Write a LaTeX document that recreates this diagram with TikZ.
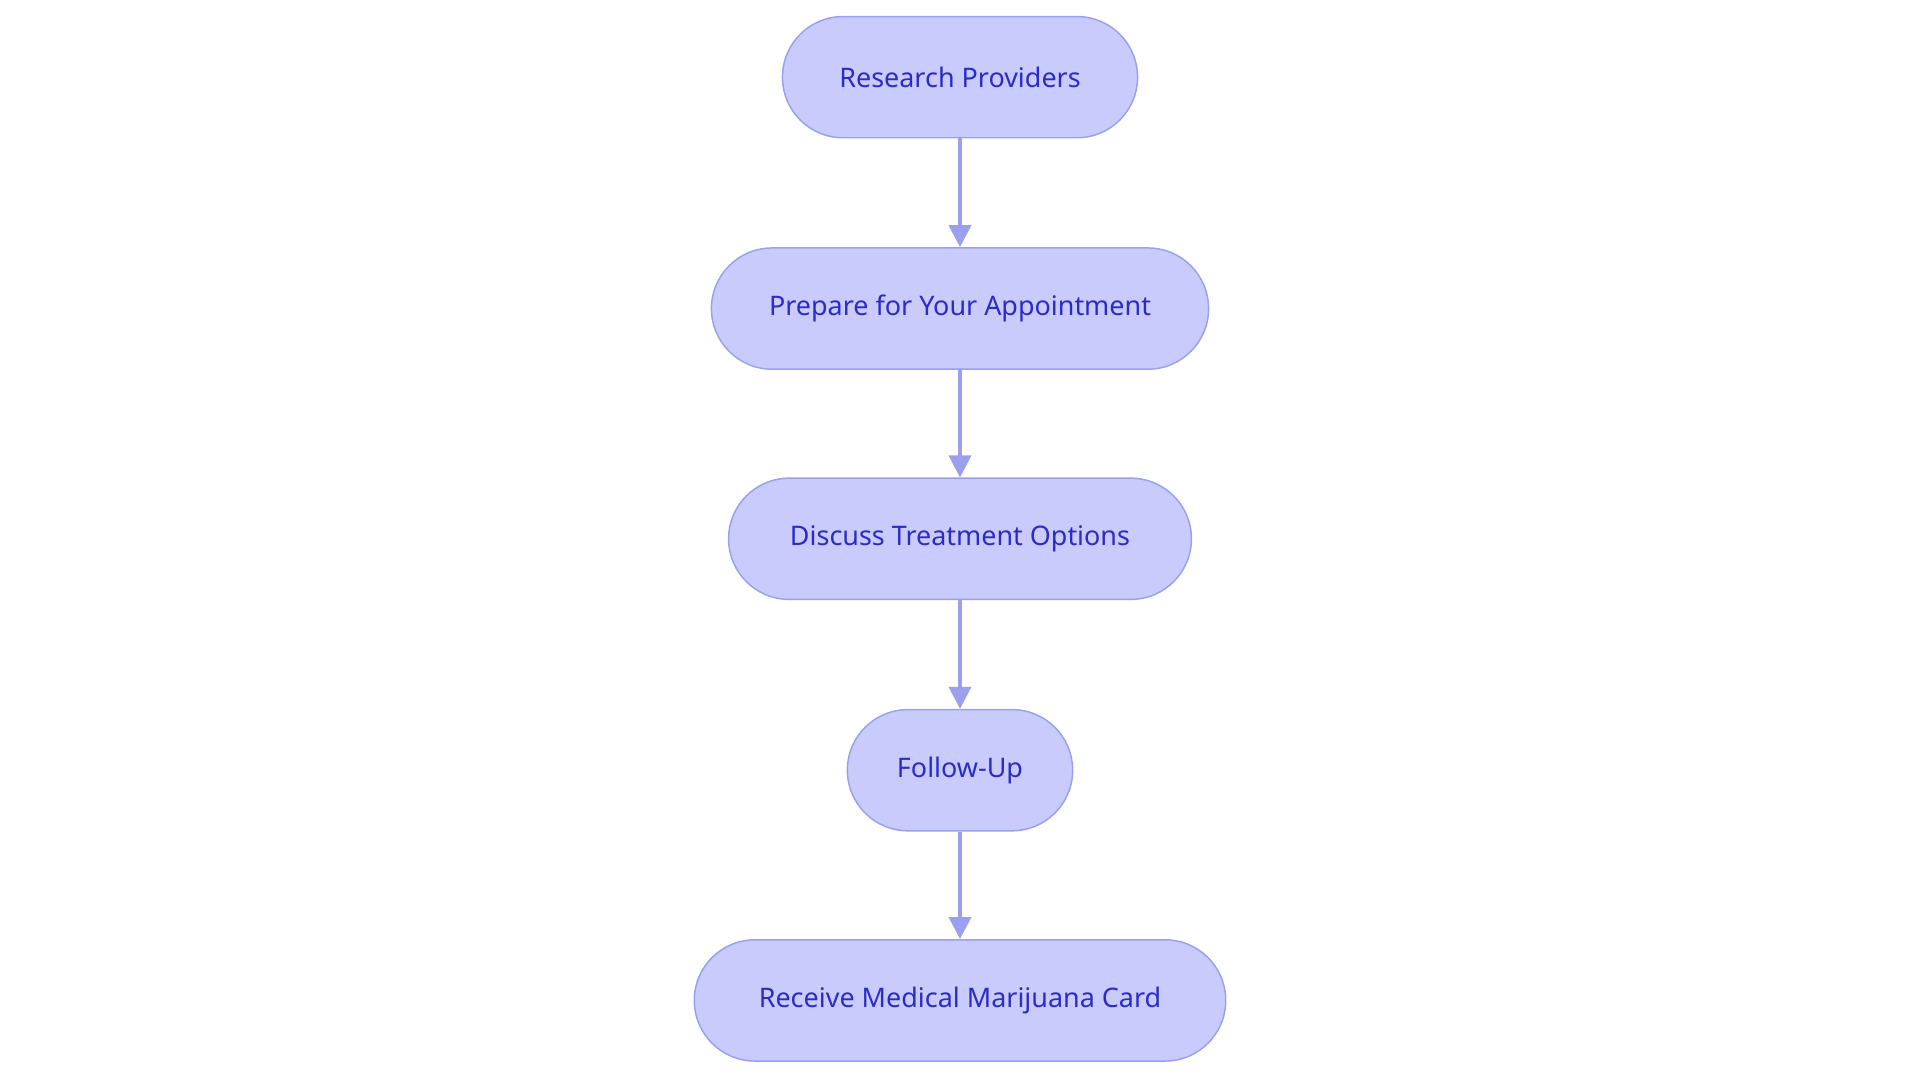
\documentclass[tikz,border=0pt]{standalone}
\usepackage{fontspec}
\setmainfont{Noto Sans}
\usetikzlibrary{arrows.meta}
\definecolor{boxfill}{HTML}{C8CBFC}
\definecolor{boxline}{HTML}{9A9FEE}
\definecolor{txt}{HTML}{2B2BC8}
\begin{document}
\begin{tikzpicture}[x=1pt,y=-1pt,
  box/.style={draw=boxline,fill=boxfill,line width=1.2pt,rounded corners=49.5pt,minimum height=99pt,text=txt,font=\fontsize{22}{26}\selectfont,inner sep=0pt},
  arr/.style={draw=boxline,line width=3pt,-{Triangle[length=18pt,width=18pt]}}]
\useasboundingbox (0,0) rectangle (1568,884);
\node[box,minimum width=290pt] (a) at (784,63) {Research Providers};
\node[box,minimum width=406pt] (b) at (784,252) {Prepare for Your Appointment};
\node[box,minimum width=378pt] (c) at (784,440) {Discuss Treatment Options};
\node[box,minimum width=184pt] (d) at (784,629) {Follow-Up};
\node[box,minimum width=434pt] (e) at (784,817) {Receive Medical Marijuana Card};
\draw[arr] (a) -- (b);
\draw[arr] (b) -- (c);
\draw[arr] (c) -- (d);
\draw[arr] (d) -- (e);
\end{tikzpicture}
\end{document}
